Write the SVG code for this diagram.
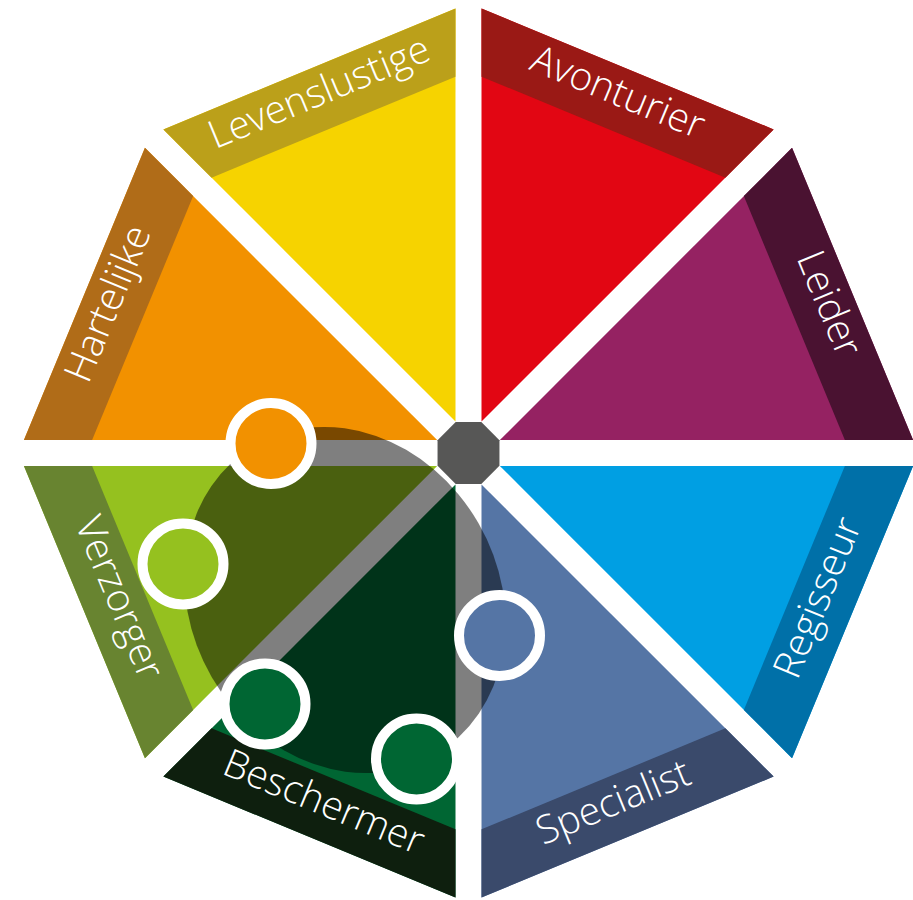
<svg xmlns="http://www.w3.org/2000/svg" width="913" height="900" viewBox="0 0 913 900">
  <defs>
    <style>
      .lbl { font-family: "Open Sans", "Liberation Sans", sans-serif; font-weight: 300; font-size: 39px; fill: #ffffff; text-anchor: middle; }
      .mk { stroke: #ffffff; stroke-width: 10; }
    </style>
    <polygon id="main" points="0,-33.97 158.1,-415.7 -158.1,-415.7"/>
    <polygon id="band" points="-158.1,-415.7 158.1,-415.7 132,-352.7 -132,-352.7"/>
  </defs>
  <rect width="913" height="900" fill="#ffffff"/>

  <g id="sectors" transform="translate(468.5 453)">
    <g id="levenslustige" transform="rotate(-22.5)">
      <use href="#main" fill="#F6D300"/>
      <use href="#band" fill="#BBA01A"/>
      <text class="lbl" x="0" y="-377.5">Levenslustige</text>
    </g>
    <g id="avonturier" transform="rotate(22.5)">
      <use href="#main" fill="#E20613"/>
      <use href="#band" fill="#9A1915"/>
      <text class="lbl" x="0" y="-377.5">Avonturier</text>
    </g>
    <g id="leider" transform="rotate(67.5)">
      <use href="#main" fill="#952262"/>
      <use href="#band" fill="#4A1231"/>
      <text class="lbl" x="0" y="-377.5">Leider</text>
    </g>
    <g id="regisseur" transform="rotate(112.5)">
      <use href="#main" fill="#009FE3"/>
      <use href="#band" fill="#0070A8"/>
      <text class="lbl" x="0" y="-377.5" transform="rotate(180 0 -384.2)">Regisseur</text>
    </g>
    <g id="specialist" transform="rotate(157.5)">
      <use href="#main" fill="#5575A5"/>
      <use href="#band" fill="#3A4A6B"/>
      <text class="lbl" x="0" y="-377.5" transform="rotate(180 0 -384.2)">Specialist</text>
    </g>
    <g id="beschermer" transform="rotate(202.5)">
      <use href="#main" fill="#006633"/>
      <use href="#band" fill="#0E1F0E"/>
      <text class="lbl" x="0" y="-377.5" transform="rotate(180 0 -384.2)">Beschermer</text>
    </g>
    <g id="verzorger" transform="rotate(247.5)">
      <use href="#main" fill="#95C11F"/>
      <use href="#band" fill="#688430"/>
      <text class="lbl" x="0" y="-377.5" transform="rotate(180 0 -384.2)">Verzorger</text>
    </g>
    <g id="hartelijke" transform="rotate(292.5)">
      <use href="#main" fill="#F29100"/>
      <use href="#band" fill="#B06C18"/>
      <text class="lbl" x="0" y="-377.5">Hartelijke</text>
    </g>
  </g>

  <g id="profile-overlay">
    <ellipse cx="345" cy="600" rx="179" ry="154" transform="rotate(60 345 600)" fill="#000000" fill-opacity="0.5"/>
  </g>

  <g id="center">
    <polygon fill="#575756" points="481.32,422.05 499.45,440.18 499.45,465.82 481.32,483.95 455.68,483.95 437.55,465.82 437.55,440.18 455.68,422.05"/>
  </g>

  <g id="connectors"></g>

  <g id="markers">
    <g id="marker-hartelijke"><circle class="mk" cx="271" cy="443.5" r="40.5" fill="#F29100"/></g>
    <g id="marker-verzorger"><circle class="mk" cx="183" cy="564" r="40.5" fill="#95C11F"/></g>
    <g id="marker-beschermer-1"><circle class="mk" cx="265" cy="704" r="40.5" fill="#006633"/></g>
    <g id="marker-beschermer-2"><circle class="mk" cx="416.5" cy="759" r="40.5" fill="#006633"/></g>
    <g id="marker-specialist"><circle class="mk" cx="499.5" cy="635.5" r="40.5" fill="#5575A5"/></g>
  </g>
</svg>
